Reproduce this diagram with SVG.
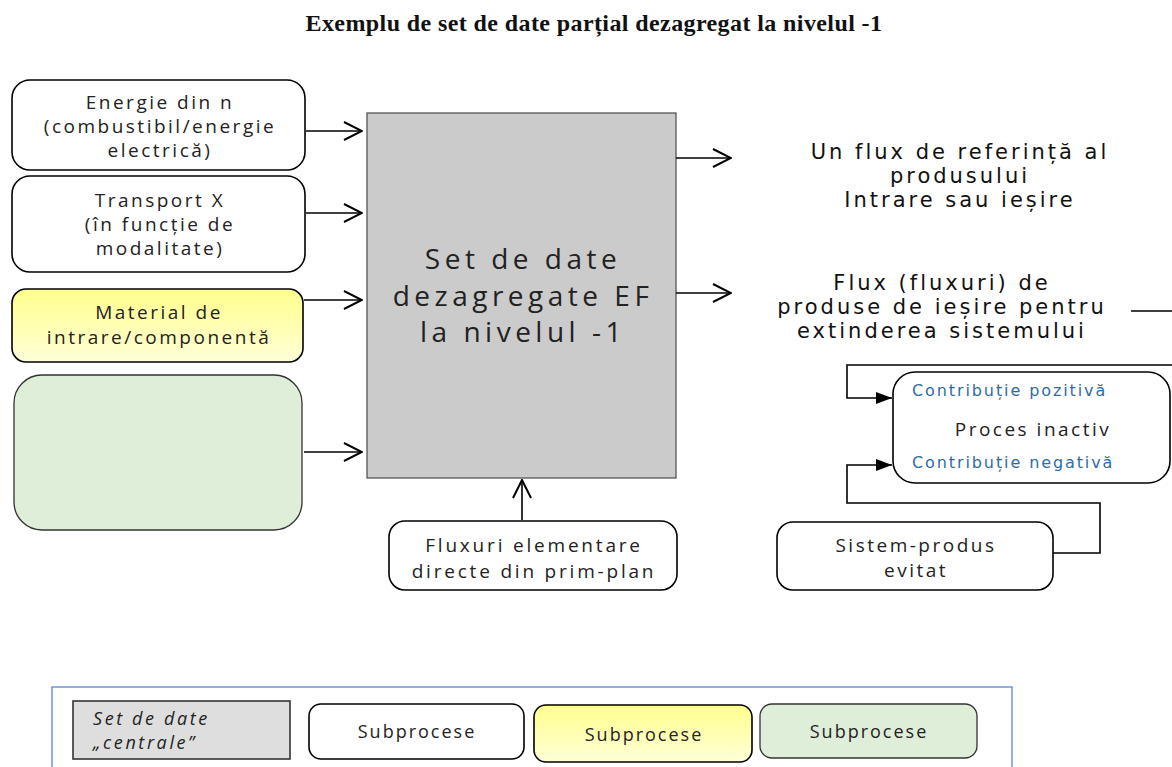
<svg xmlns="http://www.w3.org/2000/svg" width="1172" height="767" viewBox="0 0 1172 767">
<defs>
<linearGradient id="yel" x1="0" y1="0" x2="0" y2="1">
<stop offset="0" stop-color="#ffff8c"/>
<stop offset="1" stop-color="#ffffd8"/>
</linearGradient>
<marker id="open2" viewBox="0 0 20 20" refX="19" refY="10" markerWidth="20" markerHeight="20" markerUnits="userSpaceOnUse" orient="auto">
<path d="M1,1 L19,10 L1,19" fill="none" stroke="#000" stroke-width="2"/>
</marker>
<marker id="solid" viewBox="0 0 16 12" refX="16" refY="6" markerWidth="16" markerHeight="12" markerUnits="userSpaceOnUse" orient="auto">
<path d="M0,0 L16,6 L0,12 Z" fill="#000"/>
</marker>
</defs>
<style>
.box{fill:#fff;stroke:#000;stroke-width:1.6}
.c{font-family:"Open Sans","Liberation Sans",sans-serif;font-size:19px;letter-spacing:2.5px;fill:#222;text-anchor:middle}
.big{font-size:28px;letter-spacing:4.5px}
.v{font-family:"DejaVu Sans",sans-serif;font-size:21px;letter-spacing:3px;fill:#111;text-anchor:middle}
.blue{font-family:"DejaVu Sans",sans-serif;font-size:16px;letter-spacing:1.9px;fill:#2e6da4}
.lg{font-size:18px;letter-spacing:2px}
.ln{fill:none;stroke:#000;stroke-width:1.6}
</style>
<rect width="1172" height="767" fill="#fff"/>
<text x="594" y="31" font-family="Liberation Serif,serif" font-weight="bold" font-size="24" letter-spacing="0.4" text-anchor="middle" fill="#111">Exemplu de set de date parțial dezagregat la nivelul -1</text>

<g id="energie">
<rect class="box" x="12" y="80" width="293" height="90" rx="18"/>
<text class="c" x="160" y="109">Energie din n</text>
<text class="c" x="160" y="133">(combustibil/energie</text>
<text class="c" x="160" y="157">electrică)</text>
</g>
<g id="transport">
<rect class="box" x="12" y="176" width="293" height="96" rx="18"/>
<text class="c" x="160" y="207">Transport X</text>
<text class="c" x="160" y="231">(în funcție de</text>
<text class="c" x="160" y="255">modalitate)</text>
</g>
<g id="material">
<rect x="12" y="289" width="291" height="73" rx="14" fill="url(#yel)" stroke="#000" stroke-width="1.6"/>
<text class="c" x="159" y="319">Material de</text>
<text class="c" x="159" y="344">intrare/componentă</text>
</g>
<g id="green">
<rect x="14" y="375" width="288" height="155" rx="28" fill="#dfeed8" stroke="#333" stroke-width="1.3"/>
</g>
<g id="central">
<rect x="367" y="113" width="309" height="365" fill="#cbcbcb" stroke="#555" stroke-width="1.3"/>
<text class="c big" x="523" y="269">Set de date</text>
<text class="c big" x="523" y="306">dezagregate EF</text>
<text class="c big" x="523" y="342">la nivelul -1</text>
</g>
<g id="ref-flux">
<text class="v" x="960" y="159">Un flux de referință al</text>
<text class="v" x="960" y="183">produsului</text>
<text class="v" x="960" y="207">Intrare sau ieșire</text>
</g>
<g id="ext-flux">
<text class="v" x="942" y="290">Flux (fluxuri) de</text>
<text class="v" x="942" y="314">produse de ieșire pentru</text>
<text class="v" x="942" y="338">extinderea sistemului</text>
</g>
<g id="proces">
<rect class="box" x="893" y="372" width="277" height="111" rx="22"/>
<text class="blue" x="912" y="396">Contribuție pozitivă</text>
<text class="c" x="1033" y="436">Proces inactiv</text>
<text class="blue" x="912" y="468">Contribuție negativă</text>
</g>
<g id="fluxuri">
<rect class="box" x="389" y="521" width="288" height="69" rx="16"/>
<text class="c" x="534" y="552" style="letter-spacing:2.8px">Fluxuri elementare</text>
<text class="c" x="534" y="578" style="letter-spacing:2.8px">directe din prim-plan</text>
</g>
<g id="sistem">
<rect class="box" x="777" y="522" width="276" height="68" rx="16"/>
<text class="c" x="916" y="552">Sistem-produs</text>
<text class="c" x="916" y="577">evitat</text>
</g>
<g id="connectors">
<line class="ln" x1="306" y1="131" x2="362" y2="131" marker-end="url(#open2)"/>
<line class="ln" x1="306" y1="213" x2="362" y2="213" marker-end="url(#open2)"/>
<line class="ln" x1="304" y1="300" x2="362" y2="300" marker-end="url(#open2)"/>
<line class="ln" x1="304" y1="452" x2="362" y2="452" marker-end="url(#open2)"/>
<line class="ln" x1="676" y1="158" x2="731" y2="158" marker-end="url(#open2)"/>
<line class="ln" x1="676" y1="293" x2="731" y2="293" marker-end="url(#open2)"/>
<line class="ln" x1="522" y1="520" x2="522" y2="480" marker-end="url(#open2)"/>
<line class="ln" x1="1131" y1="311" x2="1172" y2="311"/>
<polyline class="ln" points="1172,365 847,365 847,398 892,398" marker-end="url(#solid)"/>
<polyline class="ln" points="1053,553 1100,553 1100,503 847,503 847,465 892,465" marker-end="url(#solid)"/>
</g>
<g id="legend">
<rect x="52" y="687" width="960" height="90" fill="#fff" stroke="#5b82d6" stroke-width="1.3"/>
<rect x="73" y="701" width="217" height="58" fill="#dedede" stroke="#333" stroke-width="1.6"/>
<text x="93" y="725" font-family="Open Sans,sans-serif" font-style="italic" font-size="18" letter-spacing="2.6" fill="#222">Set de date</text>
<text x="93" y="749" font-family="Open Sans,sans-serif" font-style="italic" font-size="18" letter-spacing="2.6" fill="#222">„centrale”</text>
<rect class="box" x="309" y="704" width="215" height="55" rx="12"/>
<text class="c lg" x="417" y="738">Subprocese</text>
<rect x="534" y="705" width="218" height="57" rx="12" fill="url(#yel)" stroke="#000" stroke-width="1.6"/>
<text class="c lg" x="644" y="741">Subprocese</text>
<rect x="760" y="704" width="217" height="54" rx="12" fill="#dfeed8" stroke="#333" stroke-width="1.3"/>
<text class="c lg" x="869" y="738">Subprocese</text>
</g>
</svg>
